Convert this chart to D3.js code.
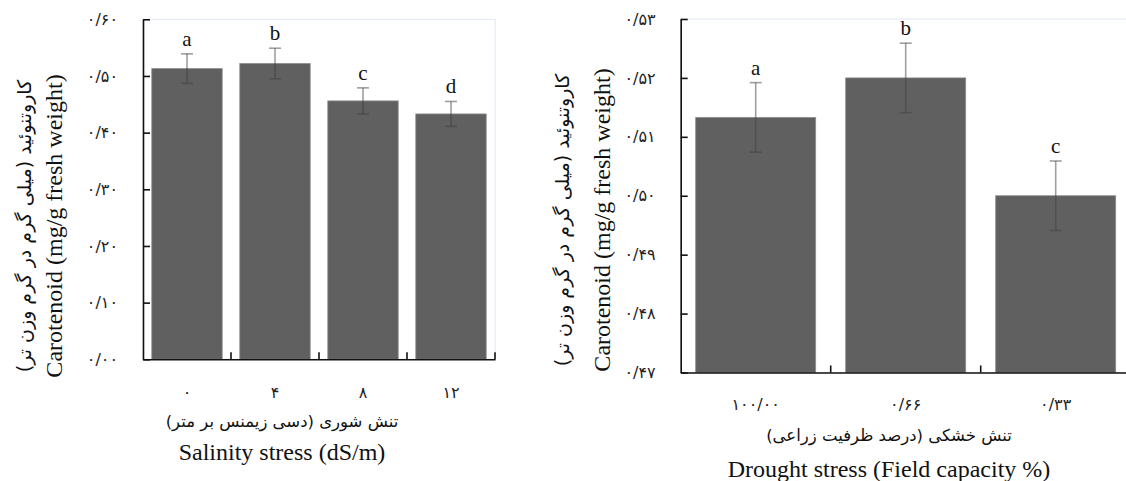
<!DOCTYPE html>
<meta charset="utf-8">
<script src="https://d3js.org/d3.v7.min.js"></script>
<style>
  body { margin: 0; background: #fff; }
</style>
<div id="chart"></div>
<script>
// salinity panel
var salinityCats = ["۰", "۴", "۸", "۱۲"];
var salinityMeans = [0.513, 0.522, 0.456, 0.433];
var salinityErr = [0.026, 0.027, 0.023, 0.022];
var salinityLetters = ["a", "b", "c", "d"];
var salinityTicks = [0, 0.1, 0.2, 0.3, 0.4, 0.5, 0.6];
var salinityTickLabels = ["۰/۰۰", "۰/۱۰", "۰/۲۰", "۰/۳۰", "۰/۴۰", "۰/۵۰", "۰/۶۰"];

// drought panel
var droughtCats = ["۱۰۰/۰۰", "۰/۶۶", "۰/۳۳"];
var droughtMeans = [0.5133, 0.5200, 0.5000];
var droughtErr = [0.0059, 0.0059, 0.0059];
var droughtLetters = ["a", "b", "c"];
var droughtTicks = [0.47, 0.48, 0.49, 0.50, 0.51, 0.52, 0.53];
var droughtTickLabels = ["۰/۴۷", "۰/۴۸", "۰/۴۹", "۰/۵۰", "۰/۵۱", "۰/۵۲", "۰/۵۳"];

var yTitleFa = "کاروتنوئید (میلی گرم در گرم وزن تر)";
var yTitleEn = "Carotenoid (mg/g fresh weight)";

var FA = "'DejaVu Sans', sans-serif";
var EN = "'Liberation Serif', 'Times New Roman', serif";

var svg = d3.select("#chart").append("svg")
    .attr("width", 1126)
    .attr("height", 481);

function drawPanel(p) {
  var x = d3.scaleBand()
      .domain(p.cats)
      .range([p.x0, p.x1])
      .paddingInner(0.2)
      .paddingOuter(0.1);
  var y = d3.scaleLinear()
      .domain(p.domain)
      .range([p.yBottom, p.yTop]);

  var g = svg.append("g");

  // faint plot frame
  g.append("rect")
      .attr("x", p.x0)
      .attr("y", y(p.domain[1]))
      .attr("width", p.x1 - p.x0)
      .attr("height", y(p.domain[0]) - y(p.domain[1]))
      .attr("fill", "none")
      .attr("stroke", "#dfe8f4")
      .attr("stroke-width", 1);

  // bars
  g.selectAll(".bar")
    .data(p.means)
    .enter().append("rect")
      .attr("x", function(d, i) { return x(p.cats[i]); })
      .attr("y", function(d) { return y(d); })
      .attr("width", x.bandwidth())
      .attr("height", function(d) { return y(p.domain[0]) - y(d); })
      .attr("fill", "#606060")
      .attr("stroke", "#8c8c8c")
      .attr("stroke-width", 0.8);

  // error bars
  var err = g.selectAll(".err")
    .data(p.means)
    .enter().append("g")
      .attr("stroke", "#404040")
      .attr("stroke-opacity", 0.5)
      .attr("stroke-width", 1.6);
  err.append("line")
      .attr("x1", function(d, i) { return x(p.cats[i]) + x.bandwidth() / 2; })
      .attr("x2", function(d, i) { return x(p.cats[i]) + x.bandwidth() / 2; })
      .attr("y1", function(d, i) { return y(d - p.err[i]); })
      .attr("y2", function(d, i) { return y(d + p.err[i]); });
  err.append("line")
      .attr("x1", function(d, i) { return x(p.cats[i]) + x.bandwidth() / 2 - 6; })
      .attr("x2", function(d, i) { return x(p.cats[i]) + x.bandwidth() / 2 + 6; })
      .attr("y1", function(d, i) { return y(d + p.err[i]); })
      .attr("y2", function(d, i) { return y(d + p.err[i]); });
  err.append("line")
      .attr("x1", function(d, i) { return x(p.cats[i]) + x.bandwidth() / 2 - 6; })
      .attr("x2", function(d, i) { return x(p.cats[i]) + x.bandwidth() / 2 + 6; })
      .attr("y1", function(d, i) { return y(d - p.err[i]); })
      .attr("y2", function(d, i) { return y(d - p.err[i]); });

  // significance letters
  g.selectAll(".letter")
    .data(p.means)
    .enter().append("text")
      .attr("x", function(d, i) { return x(p.cats[i]) + x.bandwidth() / 2; })
      .attr("y", function(d, i) { return y(d + p.err[i]) - 8; })
      .attr("text-anchor", "middle")
      .style("font-family", EN)
      .style("font-size", "21px")
      .attr("fill", "#111")
      .text(function(d, i) { return p.letters[i]; });

  // y axis, ticks pointing inward
  var yAxis = g.append("g")
      .attr("transform", "translate(" + p.x0 + ",0)")
      .call(d3.axisLeft(y)
        .tickValues(p.ticks)
        .tickFormat(function(d, i) { return p.tickLabels[i]; })
        .tickSizeInner(-7)
        .tickSizeOuter(0)
        .tickPadding(25));
  yAxis.selectAll("path, line").attr("stroke", "#111").attr("stroke-width", 1.6);
  yAxis.selectAll("text")
      .style("font-family", FA)
      .style("font-size", "16px")
      .attr("fill", "#222");

  // x axis
  var xAxis = g.append("g")
      .attr("transform", "translate(0," + p.yBottom + ")")
      .call(d3.axisBottom(x).tickSize(0).tickPadding(p.xLabelPad));
  xAxis.select(".domain").attr("stroke", "#111").attr("stroke-width", 1.6);
  xAxis.selectAll("text")
      .style("font-family", FA)
      .style("font-size", "16px")
      .attr("fill", "#222");

  // category boundary ticks, inward
  var bounds = d3.range(1, p.cats.length + 1).map(function(i) { return p.x0 + i * x.step(); });
  g.selectAll(".xt")
    .data(bounds)
    .enter().append("line")
      .attr("x1", function(d) { return d; })
      .attr("x2", function(d) { return d; })
      .attr("y1", p.yBottom)
      .attr("y2", p.yBottom - 7)
      .attr("stroke", "#111")
      .attr("stroke-width", 1.6);

  // axis titles
  var yMid = p.yTitleMid;
  g.append("text")
      .attr("transform", "translate(" + p.yFaX + "," + yMid + ") rotate(-90)")
      .attr("text-anchor", "middle")
      .attr("direction", "rtl")
      .style("font-family", FA)
      .style("font-size", "19px")
      .attr("fill", "#111")
      .text(yTitleFa);
  g.append("text")
      .attr("transform", "translate(" + p.yEnX + "," + yMid + ") rotate(-90)")
      .attr("text-anchor", "middle")
      .style("font-family", EN)
      .style("font-size", "24px")
      .attr("fill", "#111")
      .text(yTitleEn);

  g.append("text")
      .attr("x", p.xTitleMid)
      .attr("y", p.xFaY)
      .attr("text-anchor", "middle")
      .attr("direction", "rtl")
      .style("font-family", FA)
      .style("font-size", "16.5px")
      .attr("fill", "#111")
      .text(p.xTitleFa);
  g.append("text")
      .attr("x", p.xTitleMid)
      .attr("y", p.xEnY)
      .attr("text-anchor", "middle")
      .style("font-family", EN)
      .style("font-size", "24px")
      .attr("fill", "#111")
      .text(p.xTitleEn);
}

drawPanel({
  cats: salinityCats, means: salinityMeans, err: salinityErr, letters: salinityLetters,
  ticks: salinityTicks, tickLabels: salinityTickLabels, domain: [0, 0.6],
  x0: 143, x1: 495, yTop: 19.3, yBottom: 359.3, xLabelPad: 27,
  yFaX: 31, yEnX: 62, yTitleMid: 226,
  xTitleMid: 282, xFaY: 427, xEnY: 460,
  xTitleFa: "تنش شوری (دسی زیمنس بر متر)", xTitleEn: "Salinity stress (dS/m)"
});

drawPanel({
  cats: droughtCats, means: droughtMeans, err: droughtErr, letters: droughtLetters,
  ticks: droughtTicks, tickLabels: droughtTickLabels, domain: [0.47, 0.53],
  x0: 680.7, x1: 1130.7, yTop: 19, yBottom: 372.5, xLabelPad: 26,
  yFaX: 569, yEnX: 610, yTitleMid: 220,
  xTitleMid: 889, xFaY: 441, xEnY: 477,
  xTitleFa: "تنش خشکی (درصد ظرفیت زراعی)", xTitleEn: "Drought stress (Field capacity %)"
});
</script>
